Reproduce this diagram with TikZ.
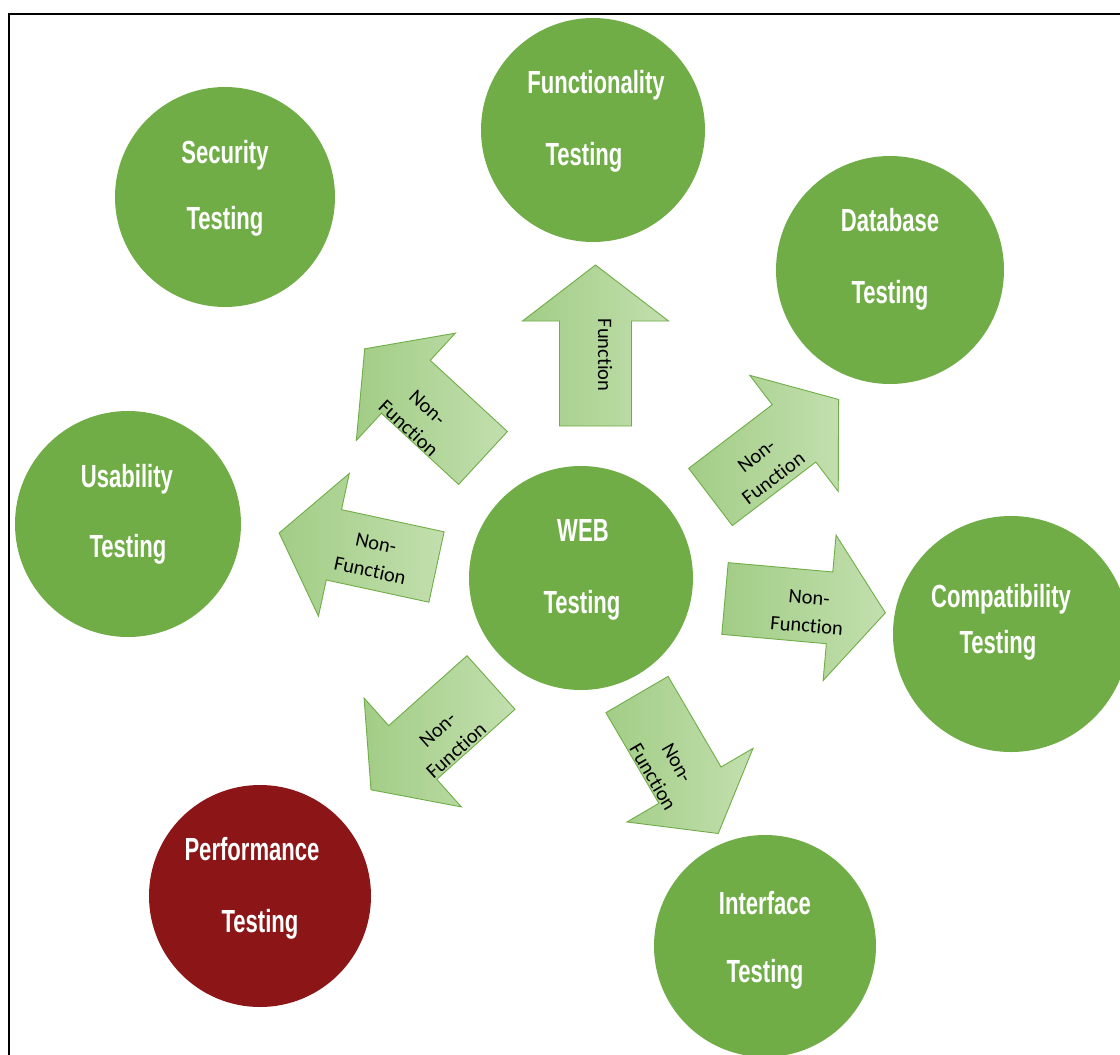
\documentclass[tikz,border=0pt]{standalone}
\usepackage{fontspec}
\setmainfont{Carlito}[Ligatures={NoCommon,NoRare,NoDiscretionary}]
\newfontfamily\headfont[FakeStretch=0.69]{Liberation Sans}
\definecolor{leaf}{HTML}{70AD47}
\definecolor{wine}{HTML}{8B1517}
\definecolor{arrowA}{HTML}{A2CD86}
\definecolor{arrowB}{HTML}{C2DFAE}

\tikzset{
  bubble/.style={circle, fill=leaf, inner sep=0pt},
  hot/.style={fill=wine},
  title/.style={font=\headfont\bfseries\fontsize{32}{38}\selectfont, text=white, anchor=base, inner sep=0pt},
  tag/.style={font=\fontsize{20.5}{28}\selectfont, align=center, inner sep=0pt, text=black},
  arrowbody/.style={draw=leaf, line width=0.9pt, left color=arrowA, right color=arrowB, line join=miter},
}
% block arrow: shaft-end midpoint (#1,#2), pointing in direction #3
\newcommand\blockarrow[3]{%
  \begin{scope}[shift={(#1,#2)}, rotate=#3]
    \shade[arrowbody] (0,-36) -- (105,-36) -- (105,-73) -- (161,0) -- (105,73) -- (105,36) -- (0,36) -- cycle;
  \end{scope}}

\begin{document}
\begin{tikzpicture}[x=1pt, y=-1pt]
  \useasboundingbox (0,0) rectangle (1120,1055);
  \clip (0,0) rectangle (1120,1055);
  \fill[white] (0,0) rectangle (1120,1055);
  \draw[line width=2pt] (8.5,13.5) rectangle (1200,1120);

  % testing areas
  \node[bubble, minimum size=224pt] (func) at (593,130) {};
  \node[bubble, minimum size=220pt] (sec)  at (225,197) {};
  \node[bubble, minimum size=228pt] (db)   at (890,270) {};
  \node[bubble, minimum size=226pt] (usa)  at (128,524) {};
  \node[bubble, minimum size=224pt] (web)  at (581,578) {};
  \node[bubble, minimum size=236pt] (comp) at (1011,634) {};
  \node[bubble, hot, minimum size=222pt] (perf) at (260,896) {};
  \node[bubble, minimum size=222pt] (intf) at (765,946) {};

  \node[title] (func-a) at (596,93)  {Functionality};
  \node[title] (func-b) at (584,165) {Testing};
  \node[title] (sec-a)  at (225,163) {Security};
  \node[title] (sec-b)  at (225,229) {Testing};
  \node[title] (db-a)   at (890,231) {Database};
  \node[title] (db-b)   at (890,303) {Testing};
  \node[title] (usa-a)  at (127,487) {Usability};
  \node[title] (usa-b)  at (128,557) {Testing};
  \node[title] (web-a)  at (583,541) {WEB};
  \node[title] (web-b)  at (582,613) {Testing};
  \node[title] (comp-a) at (1001,607) {Compatibility};
  \node[title] (comp-b) at (998,653) {Testing};
  \node[title] (perf-a) at (252,860) {Performance};
  \node[title] (perf-b) at (260,932) {Testing};
  \node[title] (intf-a) at (765,914) {Interface};
  \node[title] (intf-b) at (765,982) {Testing};

  % arrows out of the centre
  \blockarrow{595.5}{426}{90}
  \blockarrow{483}{458}{137.3}
  \blockarrow{710.5}{497}{37.3}
  \blockarrow{436.5}{567}{167.8}
  \blockarrow{725}{598.5}{-5.1}
  \blockarrow{491}{682.5}{-138.2}
  \blockarrow{637}{694.5}{-59.7}

  \node[tag, rotate=-90]   (lab-n)  at (605,355) {Function};
  \node[tag, rotate=-42.7] (lab-nw) at (418,418) {Non-\\Function};
  \node[tag, rotate=37.3]  (lab-ne) at (765,467) {Non-\\Function};
  \node[tag, rotate=-12.2] (lab-w)  at (373,557) {Non-\\Function};
  \node[tag, rotate=-5.1]  (lab-e)  at (808,612) {Non-\\Function};
  \node[tag, rotate=41.8]  (lab-sw) at (447,740) {Non-\\Function};
  \node[tag, rotate=-59.7] (lab-se) at (665,770) {Non-\\Function};
\end{tikzpicture}
\end{document}
